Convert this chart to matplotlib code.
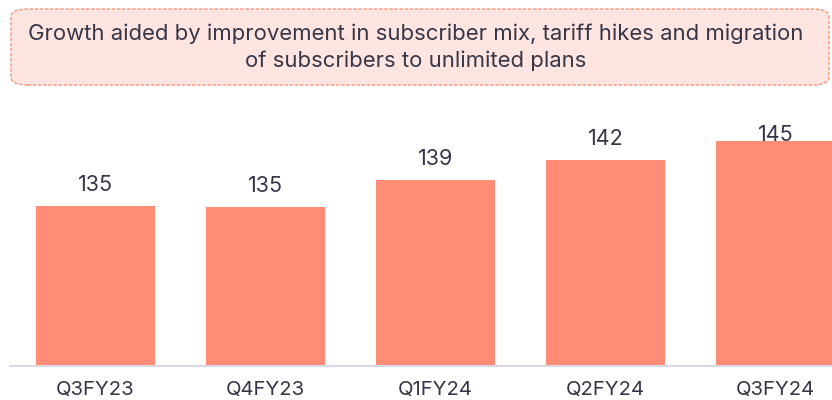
import matplotlib
matplotlib.use('Agg')
import matplotlib.pyplot as plt
from matplotlib.patches import FancyBboxPatch

quarters = ['Q3FY23', 'Q4FY23', 'Q1FY24', 'Q2FY24', 'Q3FY24']
arpu = [135, 134.8, 139, 142, 145]
value_labels = ['135', '135', '139', '142', '145']
headline = ('Growth aided by improvement in subscriber mix, tariff hikes and migration\n'
            'of subscribers to unlimited plans')

bar_color = '#FF8C74'
text_color = '#363646'
plt.rcParams['font.family'] = ['Inter', 'DejaVu Sans']

fig = plt.figure(figsize=(8.32, 4.0), dpi=100)

# headline box with a dashed rounded border
box = FancyBboxPatch((11 / 832, 1 - 85 / 400), 818 / 832, 76 / 400,
                     boxstyle='round,pad=0,rounding_size=0.02',
                     transform=fig.transFigure, facecolor='#FFE5E1',
                     edgecolor='#F7967F', linewidth=1.0, linestyle=(0, (2.5, 1.2)))
fig.patches.append(box)
fig.text(0.5, 1 - 47 / 400, headline, ha='center', va='center',
         fontsize=15.9, color=text_color, linespacing=1.42)

ax = fig.add_axes([10 / 832, 1 - 366 / 400, 822 / 832, 266 / 400])
x = range(len(quarters))
ax.bar(x, arpu, width=0.7, color=bar_color, bottom=0)
ax.set_xlim(-0.503, 4.332)
ax.set_ylim(110.4, 151.3)

for i, (v, lab) in enumerate(zip(arpu, value_labels)):
    y = min(v + 3.3, 145.9)
    ax.text(i, y, lab, ha='center', va='center', fontsize=15.5, color=text_color)

ax.set_xticks(list(x))
ax.set_xticklabels(quarters, fontsize=14.6, color=text_color)
ax.tick_params(axis='x', length=0, pad=11)
ax.set_yticks([])
for s in ['top', 'right', 'left']:
    ax.spines[s].set_visible(False)
ax.spines['bottom'].set_color('#D9D9E6')
ax.spines['bottom'].set_linewidth(1.5)

fig.savefig('out.png', dpi=100)
